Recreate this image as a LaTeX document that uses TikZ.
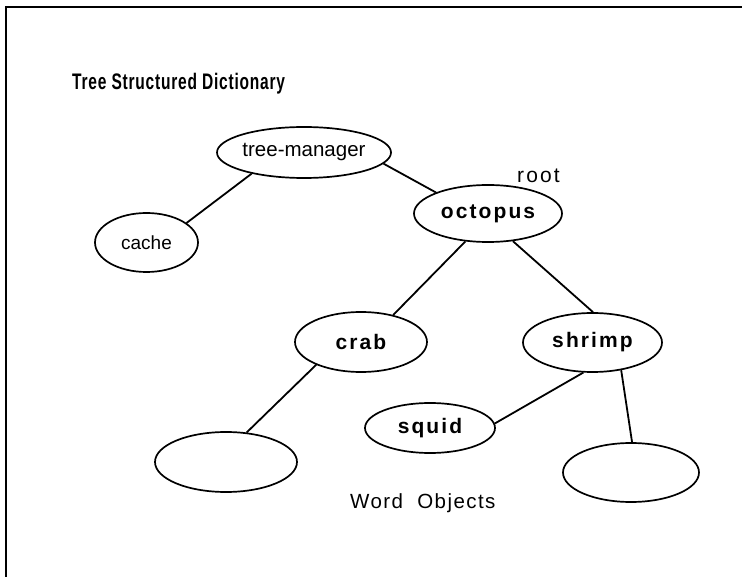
\documentclass[tikz,border=0pt]{standalone}
\usepackage{fontspec}
\usepackage{graphicx}
\setmainfont{Liberation Sans}
\usetikzlibrary{shapes.geometric}
\begin{document}
\begin{tikzpicture}[x=1pt,y=-1pt,
  wo/.style={ellipse, draw, line width=1.7pt, inner sep=0pt},
  conn/.style={line width=1.8pt},
  plainw/.style={font=\fontsize{20.5}{24}\selectfont},
  boldw/.style={font=\fontsize{21}{24}\selectfont\bfseries\addfontfeatures{LetterSpace=10}},
  lbl/.style={anchor=base west, inner sep=0pt}]
\useasboundingbox (0,0) rectangle (742,577);
\draw[line width=1.3pt] (742,7) -| (6,577);
% title
\node[lbl] (title) at (72,90) {\scalebox{0.69}[1]{\fontsize{22.5}{26}\selectfont\bfseries\addfontfeatures{LetterSpace=5}Tree Structured Dictionary}};
% nodes
\node[wo, minimum width=142pt, minimum height=51pt, plainw] (tm) at (304,152.5) {tree-manager};
\node[wo, minimum width=148pt, minimum height=57pt, boldw] (oct) at (488,213.5) {octopus};
\node[wo, minimum width=103pt, minimum height=59pt, font=\fontsize{19}{22}\selectfont] (cache) at (146.5,242.5) {cache};
\node[wo, minimum width=132pt, minimum height=60pt, boldw] (crab) at (361,342) {crab};
\node[wo, minimum width=139pt, minimum height=59pt, boldw] (shrimp) at (592.5,342.5) {shrimp};
\node[wo, minimum width=130pt, minimum height=50pt, boldw] (squid) at (430,428) {squid};
\node[wo, minimum width=142pt, minimum height=60pt] (leftw) at (226,462) {};
\node[wo, minimum width=136pt, minimum height=59pt] (rightw) at (631,472.5) {};
% labels
\node[lbl, font=\fontsize{21}{24}\selectfont\addfontfeatures{LetterSpace=10}] (root) at (517,183) {root};
\node[lbl, font=\fontsize{20.5}{24}\selectfont\addfontfeatures{LetterSpace=7}] (wol) at (350,508) {Word\ \ Objects};
% connectors
\draw[conn] (tm.-8) -- (oct.158);
\draw[conn] (tm.-158.5) -- (cache.26);
\draw[conn] (oct.-129) -- (crab.40.5);
\draw[conn] (oct.-48.7) -- (shrimp.89);
\draw[conn] (crab.207) -- (leftw.55);
\draw[conn] (shrimp.-107.8) -- (squid.4.3);
\draw[conn] (shrimp.-44) -- (rightw.88);
\end{tikzpicture}
\end{document}
